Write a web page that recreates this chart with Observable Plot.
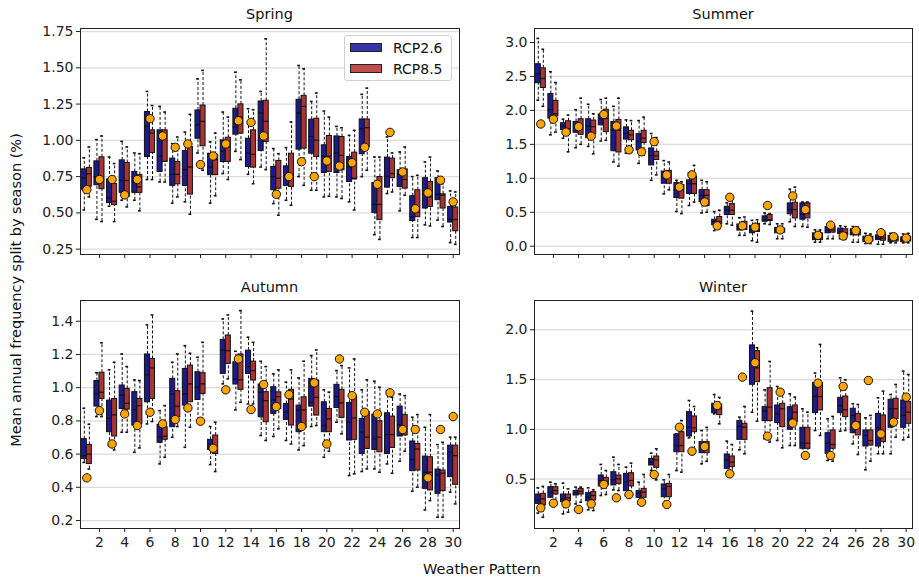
<!DOCTYPE html>
<html><head><meta charset="utf-8">
<script src="https://cdn.jsdelivr.net/npm/d3@7"></script>
<script src="https://cdn.jsdelivr.net/npm/@observablehq/plot@0.6"></script>
<style>
body{margin:0;background:#fff;font-family:"DejaVu Sans",sans-serif;}
#fig{position:relative;width:919px;height:578px;overflow:hidden;background:#fff;}
.panel{position:absolute;}
.title{position:absolute;font-size:14.5px;color:#111;transform:translate(-50%,-50%);white-space:nowrap;}
.lab{position:absolute;font-size:14.5px;color:#111;white-space:nowrap;}
#legend{position:absolute;left:344px;top:35px;width:106px;height:44px;border:1px solid #d0d0d0;border-radius:3px;background:rgba(255,255,255,0.85);}
.patch{position:absolute;left:5px;width:30px;height:7px;border:1px solid #222;}
.ltxt{position:absolute;left:48px;font-size:14px;color:#111;transform:translateY(-50%);}
</style></head><body><div id="fig"></div><script>
// x categories
const patterns = d3.range(1, 31);
const xTicks = d3.range(2, 31, 2);
const seasons = ["Spring", "Summer", "Autumn", "Winter"];
const scenarios = ["RCP2.6", "RCP8.5"];

// [lower whisker, Q1, median, Q3, upper whisker] per weather pattern
const springRcp26 = [[0.52,0.66,0.74,0.80,0.88],[0.455,0.69,0.75,0.855,1.005],[0.546,0.567,0.603,0.73,0.885],[0.587,0.638,0.723,0.862,0.993],[0.587,0.638,0.713,0.782,0.913],[0.73,0.885,1.096,1.195,1.337],[0.713,0.782,0.89,1.069,1.234],[0.567,0.686,0.766,0.874,0.977],[0.576,0.686,0.798,0.927,1.057],[0.913,1.011,1.108,1.206,1.424],[0.567,0.76,0.816,0.908,0.989],[0.771,0.851,0.924,1.0,1.195],[0.924,1.039,1.092,1.218,1.47],[0.766,0.816,0.913,1.011,1.218],[0.816,0.927,1.188,1.268,1.337],[0.564,0.656,0.75,0.816,0.943],[0.587,0.686,0.759,0.821,0.95],[0.75,0.936,1.188,1.28,1.516],[0.656,0.908,1.027,1.142,1.268],[0.61,0.775,0.89,0.966,1.202],[0.61,0.775,0.913,1.027,1.096],[0.576,0.713,0.816,0.885,1.034],[0.75,0.904,1.08,1.144,1.317],[0.35,0.5,0.558,0.706,0.885],[0.633,0.674,0.752,0.881,1.023],[0.514,0.679,0.766,0.794,0.92],[0.33,0.444,0.472,0.615,0.75],[0.417,0.53,0.633,0.739,0.851],[0.45,0.587,0.628,0.739,0.789],[0.295,0.433,0.454,0.541,0.651]];
const springRcp85 = [[0.61,0.68,0.77,0.81,0.954],[0.44,0.663,0.73,0.883,1.03],[0.44,0.553,0.58,0.70,0.84],[0.541,0.61,0.723,0.844,0.954],[0.514,0.638,0.679,0.76,0.908],[0.73,0.913,1.05,1.069,1.24],[0.713,0.851,0.855,1.069,1.195],[0.61,0.697,0.766,0.851,1.023],[0.491,0.626,0.816,0.954,1.179],[0.794,0.959,1.131,1.24,1.482],[0.618,0.76,0.867,0.901,1.05],[0.73,0.851,0.954,1.018,1.16],[0.867,1.046,1.16,1.248,1.417],[0.701,0.812,0.904,1.069,1.211],[0.798,0.989,1.131,1.273,1.70],[0.484,0.667,0.739,0.858,0.908],[0.553,0.679,0.759,0.908,1.126],[0.69,0.943,1.234,1.307,1.493],[0.656,0.885,1.0,1.149,1.326],[0.615,0.782,0.89,1.03,1.16],[0.599,0.794,0.897,1.023,1.087],[0.52,0.73,0.739,0.915,1.069],[0.794,0.954,1.087,1.144,1.36],[0.317,0.45,0.558,0.747,0.885],[0.644,0.739,0.771,0.874,0.913],[0.622,0.667,0.73,0.80,0.954],[0.33,0.47,0.507,0.656,0.759],[0.41,0.541,0.61,0.713,0.885],[0.406,0.53,0.622,0.628,0.701],[0.283,0.373,0.454,0.537,0.644]];
const springObs = [0.66,0.73,0.73,0.624,0.73,1.149,1.03,0.952,0.975,0.833,0.892,0.975,1.135,1.124,1.03,0.628,0.75,0.853,0.75,0.858,0.823,0.846,0.952,0.697,1.055,0.782,0.528,0.638,0.725,0.576];

const summerRcp26 = [[2.15,2.40,2.54,2.68,3.06],[1.64,1.88,2.01,2.24,2.57],[1.59,1.71,1.77,1.81,1.87],[1.45,1.67,1.76,1.83,2.01],[1.47,1.59,1.77,1.87,2.09],[1.55,1.78,1.88,1.94,2.16],[1.24,1.40,1.71,1.83,2.06],[1.37,1.57,1.66,1.75,1.86],[1.22,1.41,1.54,1.65,1.85],[0.97,1.19,1.34,1.44,1.66],[0.77,0.92,1.03,1.10,1.26],[0.51,0.71,0.83,0.93,0.97],[0.60,0.77,0.92,0.97,1.08],[0.49,0.65,0.75,0.825,0.97],[0.23,0.31,0.36,0.39,0.51],[0.33,0.46,0.53,0.58,0.64],[0.16,0.23,0.29,0.32,0.42],[0.08,0.19,0.24,0.30,0.38],[0.33,0.36,0.39,0.44,0.49],[0.11,0.19,0.23,0.27,0.33],[0.36,0.47,0.54,0.63,0.84],[0.29,0.39,0.47,0.63,0.65],[0.06,0.09,0.14,0.19,0.24],[0.11,0.19,0.24,0.28,0.32],[0.11,0.18,0.21,0.26,0.30],[0.06,0.16,0.20,0.25,0.29],[0.04,0.06,0.10,0.14,0.19],[0.03,0.09,0.12,0.16,0.21],[0.05,0.06,0.10,0.15,0.19],[0.05,0.06,0.09,0.13,0.18]];
const summerRcp85 = [[2.06,2.33,2.47,2.62,2.90],[1.68,1.91,1.95,2.14,2.41],[1.39,1.66,1.73,1.84,1.93],[1.50,1.64,1.73,1.87,2.18],[1.36,1.65,1.76,1.85,1.95],[1.56,1.68,1.88,2.01,2.18],[1.18,1.38,1.71,1.86,2.18],[1.38,1.56,1.64,1.70,1.85],[1.34,1.52,1.59,1.70,1.90],[1.05,1.27,1.33,1.39,1.60],[0.83,0.92,1.02,1.11,1.24],[0.48,0.70,0.83,0.90,0.95],[0.65,0.77,0.92,1.02,1.19],[0.50,0.59,0.75,0.825,0.95],[0.26,0.32,0.36,0.43,0.53],[0.31,0.46,0.53,0.62,0.68],[0.16,0.24,0.29,0.36,0.43],[0.06,0.21,0.24,0.33,0.39],[0.32,0.37,0.39,0.46,0.48],[0.11,0.20,0.23,0.26,0.33],[0.29,0.41,0.54,0.64,0.87],[0.28,0.41,0.48,0.63,0.65],[0.06,0.09,0.14,0.19,0.24],[0.11,0.20,0.24,0.29,0.33],[0.10,0.16,0.20,0.25,0.29],[0.06,0.16,0.20,0.24,0.28],[0.04,0.07,0.10,0.14,0.18],[0.03,0.08,0.12,0.19,0.22],[0.05,0.07,0.10,0.14,0.18],[0.05,0.07,0.10,0.14,0.19]];
const summerObs = [1.80,1.87,1.68,1.76,1.62,1.94,1.77,1.42,1.39,1.54,1.05,0.87,1.05,0.65,0.30,0.72,0.30,0.28,0.60,0.24,0.74,0.54,0.16,0.31,0.15,0.23,0.10,0.20,0.14,0.12];

const autumnRcp26 = [[0.55,0.57,0.59,0.69,0.876],[0.826,0.886,0.963,1.04,1.09],[0.651,0.732,0.816,0.922,1.107],[0.732,0.872,0.956,1.013,1.203],[0.611,0.772,0.866,0.973,1.047],[0.782,0.912,1.077,1.2,1.378],[0.541,0.668,0.702,0.776,0.862],[0.702,0.762,0.962,1.053,1.153],[0.641,0.892,0.962,1.113,1.253],[0.802,0.926,1.003,1.093,1.183],[0.537,0.625,0.661,0.686,0.766],[1.023,1.083,1.227,1.288,1.414],[0.866,1.019,1.053,1.153,1.219],[0.902,1.083,1.127,1.223,1.304],[0.712,0.822,0.973,1.019,1.159],[0.706,0.842,0.926,1.003,1.083],[0.682,0.806,0.852,0.902,1.033],[0.625,0.732,0.866,0.892,1.059],[0.766,0.886,0.912,1.053,1.193],[0.581,0.732,0.772,0.912,0.987],[0.792,0.878,0.946,1.017,1.103],[0.471,0.682,0.792,0.908,1.119],[0.495,0.601,0.732,0.812,0.987],[0.511,0.625,0.692,0.838,1.039],[0.541,0.601,0.718,0.846,0.983],[0.557,0.706,0.778,0.886,0.962],[0.377,0.497,0.567,0.676,0.822],[0.264,0.391,0.491,0.585,0.762],[0.22,0.361,0.475,0.507,0.657],[0.371,0.461,0.611,0.651,0.702]];
const autumnRcp85 = [[0.51,0.54,0.60,0.655,0.78],[0.826,0.932,0.972,1.09,1.27],[0.625,0.706,0.836,0.932,1.153],[0.732,0.868,0.906,0.993,1.127],[0.637,0.782,0.892,0.932,1.043],[0.796,0.932,1.119,1.173,1.438],[0.581,0.686,0.708,0.762,0.892],[0.766,0.822,0.888,0.979,1.203],[0.762,0.912,1.023,1.133,1.207],[0.798,0.962,1.023,1.087,1.273],[0.495,0.601,0.631,0.712,0.792],[1.053,1.143,1.223,1.314,1.438],[0.912,0.987,1.047,1.2,1.464],[0.902,1.043,1.103,1.157,1.273],[0.682,0.792,0.922,0.973,1.127],[0.752,0.872,0.946,0.972,1.107],[0.661,0.772,0.932,0.987,1.107],[0.651,0.758,0.866,0.942,1.159],[0.772,0.832,0.942,1.043,1.227],[0.617,0.732,0.812,0.872,0.973],[0.722,0.818,0.908,0.987,1.133],[0.481,0.686,0.818,0.946,1.173],[0.511,0.631,0.702,0.852,1.047],[0.491,0.611,0.702,0.798,1.003],[0.485,0.637,0.718,0.826,0.942],[0.617,0.712,0.752,0.836,0.952],[0.401,0.501,0.631,0.661,0.838],[0.32,0.381,0.491,0.581,0.838],[0.22,0.377,0.485,0.501,0.671],[0.30,0.415,0.591,0.651,0.702]];
const autumnObs = [0.457,0.862,0.661,0.842,0.772,0.852,0.782,0.808,0.878,0.798,0.635,0.987,1.173,0.868,1.019,0.886,0.958,0.766,1.029,0.661,1.173,0.952,0.852,0.842,0.969,0.748,0.748,0.457,0.748,0.826];

const winterRcp26 = [[0.159,0.252,0.293,0.346,0.413],[0.259,0.313,0.37,0.42,0.47],[0.152,0.269,0.303,0.346,0.46],[0.252,0.336,0.36,0.38,0.42],[0.192,0.279,0.319,0.36,0.413],[0.336,0.427,0.487,0.537,0.648],[0.393,0.437,0.493,0.57,0.721],[0.336,0.38,0.47,0.554,0.621],[0.252,0.313,0.36,0.38,0.47],[0.587,0.637,0.671,0.704,0.761],[0.252,0.319,0.403,0.447,0.493],[0.587,0.771,0.838,0.949,0.955],[0.915,0.929,1.022,1.173,1.29],[0.654,0.761,0.828,0.872,0.989],[1.156,1.163,1.217,1.257,1.35],[0.56,0.604,0.694,0.748,0.882],[0.795,0.895,1.029,1.083,1.123],[1.173,1.448,1.675,1.843,2.187],[0.905,1.083,1.183,1.223,1.397],[0.889,1.063,1.156,1.24,1.431],[0.838,0.996,1.106,1.223,1.357],[0.738,0.805,0.862,1.016,1.207],[0.989,1.163,1.33,1.464,1.565],[0.688,0.755,0.862,0.962,1.106],[0.982,1.163,1.24,1.317,1.518],[0.855,0.962,1.14,1.207,1.257],[0.594,0.828,0.939,0.989,1.116],[0.755,0.828,1.016,1.156,1.317],[0.755,1.016,1.207,1.297,1.35],[0.895,1.016,1.14,1.29,1.585]];
const winterRcp85 = [[0.118,0.236,0.303,0.353,0.427],[0.286,0.346,0.386,0.42,0.453],[0.169,0.279,0.313,0.346,0.403],[0.269,0.346,0.38,0.403,0.42],[0.185,0.286,0.336,0.37,0.393],[0.346,0.437,0.477,0.513,0.587],[0.386,0.453,0.503,0.537,0.648],[0.353,0.427,0.487,0.56,0.661],[0.252,0.313,0.37,0.403,0.547],[0.493,0.614,0.694,0.728,0.805],[0.236,0.319,0.427,0.453,0.547],[0.571,0.771,0.838,0.972,1.089],[0.80,0.972,1.016,1.13,1.23],[0.68,0.761,0.828,0.872,1.02],[1.056,1.143,1.207,1.25,1.32],[0.537,0.621,0.671,0.728,0.848],[0.755,0.895,1.022,1.056,1.23],[1.083,1.474,1.618,1.786,1.819],[0.872,1.083,1.223,1.414,1.682],[0.815,1.022,1.207,1.257,1.397],[0.838,1.073,1.173,1.24,1.324],[0.738,0.805,0.862,1.016,1.173],[0.939,1.19,1.33,1.464,1.853],[0.681,0.805,0.848,0.989,1.13],[0.989,1.123,1.197,1.33,1.498],[0.748,0.939,1.073,1.156,1.25],[0.681,0.838,0.889,0.989,1.14],[0.755,0.872,0.972,1.14,1.384],[0.922,1.106,1.207,1.307,1.451],[0.922,1.056,1.173,1.274,1.551]];
const winterObs = [0.212,0.259,0.252,0.196,0.252,0.447,0.313,0.346,0.269,0.547,0.246,1.022,0.781,0.828,1.24,0.554,1.525,1.669,0.932,1.374,1.063,0.738,1.464,0.738,1.431,1.039,1.491,0.955,1.073,1.324];

// y tick labels per panel
const springTicks = [0.25,0.50,0.75,1.00,1.25,1.50,1.75];
const summerTicks = [0.0,0.5,1.0,1.5,2.0,2.5,3.0];
const autumnTicks = [0.2,0.4,0.6,0.8,1.0,1.2,1.4];
const winterTicks = [0.5,1.0,1.5,2.0];

const boxColors = ["#1b1b8e", "#a83434"];
const legendColors = ["#3535a8", "#c24d4d"];

const fig = document.getElementById("fig");

function panel(cfg) {
  const rec = (arr, off, s) => arr.map((d, i) => ({x: patterns[i] + off, lo: d[0], q1: d[1], med: d[2], q3: d[3], hi: d[4], s}));
  const all = rec(cfg.b, -0.2, scenarios[0]).concat(rec(cfg.r, 0.2, scenarios[1]));
  const obs = cfg.obs.map((v, i) => ({x: patterns[i], v}));
  const hw = 0.2, cw = 0.11;
  const chart = Plot.plot({
    width: cfg.width, height: cfg.height,
    marginTop: cfg.mt, marginBottom: cfg.mb, marginLeft: cfg.ml, marginRight: cfg.mr,
    style: {fontFamily: "DejaVu Sans, sans-serif", fontSize: "14px", color: "#222", background: "none", overflow: "visible"},
    x: {domain: [0.5, 30.5], label: null},
    y: {domain: cfg.domain, label: null},
    color: {domain: scenarios, range: boxColors},
    marks: [
      Plot.ruleY(cfg.ticks, {stroke: "#dcdcdc", strokeWidth: 1.2}),
      Plot.ruleX(all, {x: "x", y1: "lo", y2: "q1", stroke: "#111", strokeWidth: 1, strokeDasharray: "3,2"}),
      Plot.ruleX(all, {x: "x", y1: "q3", y2: "hi", stroke: "#111", strokeWidth: 1, strokeDasharray: "3,2"}),
      Plot.ruleY(all, {y: "lo", x1: d => d.x - cw, x2: d => d.x + cw, stroke: "#111", strokeWidth: 1.6}),
      Plot.ruleY(all, {y: "hi", x1: d => d.x - cw, x2: d => d.x + cw, stroke: "#111", strokeWidth: 1.6}),
      Plot.rect(all, {x1: d => d.x - hw, x2: d => d.x + hw, y1: "q1", y2: "q3", fill: "s", stroke: "#111", strokeWidth: 1}),
      Plot.ruleY(all, {y: "med", x1: d => d.x - hw, x2: d => d.x + hw, stroke: "#111", strokeWidth: 1.2}),
      Plot.dot(obs, {x: "x", y: "v", r: 4.2, fill: "#ffa500", stroke: "#111", strokeWidth: 1}),
      Plot.frame({stroke: "#222", strokeWidth: 1}),
      Plot.axisY({ticks: cfg.ticks, tickSize: 4, tickPadding: 3, tickFormat: d3.format(cfg.fmt), label: null, stroke: "#222"}),
      Plot.axisX({ticks: xTicks, tickSize: 4, tickPadding: 5, tickFormat: cfg.showX ? (d => d) : (() => ""), label: null, stroke: "#222"})
    ]
  });
  const wrap = document.createElement("div");
  wrap.className = "panel";
  wrap.style.left = cfg.left + "px";
  wrap.style.top = cfg.top + "px";
  wrap.appendChild(chart);
  fig.appendChild(wrap);
  const t = document.createElement("div");
  t.className = "title";
  t.textContent = cfg.title;
  t.style.left = (cfg.left + cfg.ml + (cfg.width - cfg.ml - cfg.mr) / 2) + "px";
  t.style.top = cfg.titleY + "px";
  fig.appendChild(t);
}

panel({title: seasons[0], b: springRcp26, r: springRcp85, obs: springObs, ticks: springTicks, fmt: ".2f",
  domain: [0.213, 1.771], showX: false, left: 0, top: 0, width: 470, height: 262, mt: 28, mb: 8, ml: 80, mr: 11, titleY: 14});
panel({title: seasons[1], b: summerRcp26, r: summerRcp85, obs: summerObs, ticks: summerTicks, fmt: ".1f",
  domain: [-0.122, 3.206], showX: false, left: 454, top: 0, width: 465, height: 262, mt: 28, mb: 8, ml: 80, mr: 7, titleY: 14});
panel({title: seasons[2], b: autumnRcp26, r: autumnRcp85, obs: autumnObs, ticks: autumnTicks, fmt: ".1f",
  domain: [0.152, 1.525], showX: true, left: 0, top: 290, width: 470, height: 270, mt: 10, mb: 32, ml: 80, mr: 11, titleY: 287});
panel({title: seasons[3], b: winterRcp26, r: winterRcp85, obs: winterObs, ticks: winterTicks, fmt: ".1f",
  domain: [0.005, 2.294], showX: true, left: 454, top: 290, width: 465, height: 270, mt: 10, mb: 32, ml: 80, mr: 7, titleY: 287});

// axis labels
const yl = document.createElement("div");
yl.className = "lab";
yl.textContent = "Mean annual frequency split by season (%)";
yl.style.left = "16px"; yl.style.top = "290px";
yl.style.transform = "translate(-50%,-50%) rotate(-90deg)";
fig.appendChild(yl);
const xl = document.createElement("div");
xl.className = "lab";
xl.textContent = "Weather Pattern";
xl.style.left = "482px"; xl.style.top = "569px";
xl.style.transform = "translate(-50%,-50%)";
fig.appendChild(xl);

// legend
const lg = document.createElement("div");
lg.id = "legend";
scenarios.forEach((s, i) => {
  const p = document.createElement("div");
  p.className = "patch";
  p.style.top = (7 + i * 20.5) + "px";
  p.style.background = legendColors[i];
  lg.appendChild(p);
  const tx = document.createElement("div");
  tx.className = "ltxt";
  tx.style.top = (12 + i * 20.5) + "px";
  tx.textContent = s;
  lg.appendChild(tx);
});
fig.appendChild(lg);
</script></body></html>
